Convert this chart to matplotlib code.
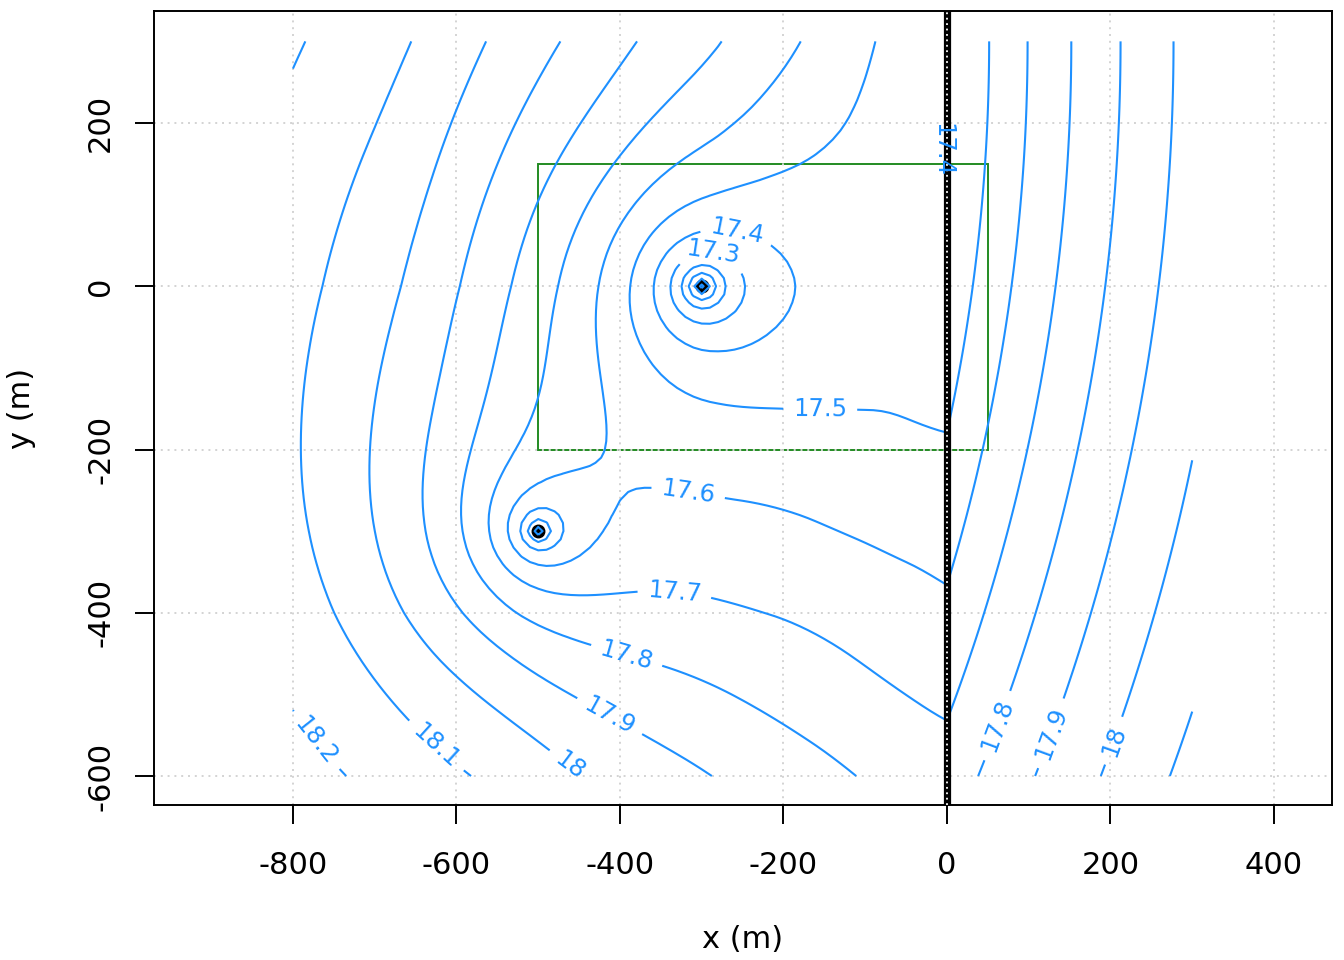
import numpy as np
import matplotlib
matplotlib.use('Agg')
import matplotlib.pyplot as plt
from matplotlib.patches import Rectangle

plt.rcParams['font.family'] = 'DejaVu Sans'
plt.rcParams['axes.unicode_minus'] = False

# regional head vs distance from the far-field centre
profile_r = [2100, 2204, 2253, 2296, 2351, 2412, 2475, 2552, 2630, 2710, 2790, 2870, 2950, 3030, 3110, 3250]
profile_h = [17.18, 17.4, 17.5, 17.6, 17.7, 17.8, 17.9, 18.0, 18.1, 18.19, 18.28, 18.365, 18.42, 18.47, 18.505, 18.57]
centre_x = -2200
centre_y = 300
bulge = 0.024      # extra head on the upper west side
bank_drop = 0.025  # lower head along the west bank
bank_len = 150

# pumping wells: drawdown strength per log unit, well radius
well_x = [-300, -500]
well_y = [0, -300]
well_c = [0.2, 0.157]
well_rad = 5

river_x = 0
roi_x = [-500, 50]
roi_y = [-200, 150]

levels = [16.5, 16.6, 16.7, 16.8, 16.9, 17.0, 17.1, 17.2, 17.3, 17.4, 17.5, 17.6,
          17.7, 17.8, 17.9, 18.0, 18.1, 18.2, 18.3, 18.4, 18.5, 18.6]

label_lev = [18.2, 18.1, 18.0, 17.9, 17.8, 17.7, 17.6, 17.5, 17.4, 17.3, 17.8, 17.9, 18.0]
label_x = [-771, -632, -461, -410, -390, -333, -318, -155, -256, -290, 61, 128, 199]
label_y = [-556, -571, -587, -522, -446, -372, -262, -156, 71, 22, -538, -548, -555]
river_label = ('17.4', -6, 167)

xticks = [-800, -600, -400, -200, 0, 200, 400]
yticks = [-600, -400, -200, 0, 200]

blue = '#1E90FF'

# head field on the model grid
gx = np.linspace(-800, 300, 111)
gy = np.linspace(-600, 300, 91)
X, Y = np.meshgrid(gx, gy)
r = np.hypot(np.abs(X - river_x) - centre_x, Y - centre_y)
# light smoothing of the read-off profile so the contours have no corners
head = np.mean([np.interp(r + d, profile_r, profile_h) for d in np.linspace(-40, 40, 17)], axis=0)

west = X < river_x
u = np.clip(river_x - X, 0, None)
s = np.clip(u / 800, 0, 1)
shape = (4 * s * (1 - s) + 0.5 * s ** 2) * np.minimum(1, s / 0.35)
head += np.where(west, bulge * shape * np.clip((Y + 400) / 400, 0, 1), 0.0)
head -= np.where(west, bank_drop * (u / bank_len) * np.exp(1 - u / bank_len)
                 * np.clip((300 - Y) / 300, 0, 1), 0.0)
for wx, wy, c in zip(well_x, well_y, well_c):
    r1 = np.maximum(np.hypot(X - wx, Y - wy), well_rad)
    ri = np.hypot(X - (2 * river_x - wx), Y - wy)  # image well across the river
    head += np.where(west, c * np.log(r1 / ri), 0.0)

fig = plt.figure(figsize=(13.44, 9.6), dpi=100)
ax = fig.add_axes([154 / 1344, 155 / 960, 1178 / 1344, 794 / 960])
ax.set_xlim(-970, 471)
ax.set_ylim(-635.5, 337.2)

ax.add_patch(Rectangle((roi_x[0], roi_y[0]), roi_x[1] - roi_x[0], roi_y[1] - roi_y[0],
                       fill=False, edgecolor='#228B22', lw=1.4, zorder=1))

for t in xticks:
    ax.axvline(t, color='#D3D3D3', lw=1.4, ls=(0, (1, 2.5)), zorder=1.5)
for t in yticks:
    ax.axhline(t, color='#D3D3D3', lw=1.4, ls=(0, (1, 2.5)), zorder=1.5)

ax.plot(well_x, well_y, 'o', color='black', ms=9, zorder=1.8)

# the 17.4 line that runs under the river is hidden by it
under_river = (np.abs(X - river_x) <= 10) & (Y >= 100)

fmt = lambda v: f'{v:g}'
for lev in levels:
    z = np.ma.masked_where(under_river, head) if lev == 17.4 else head
    cs = ax.contour(X, Y, z, levels=[lev], colors=blue, linewidths=1.5, zorder=2)
    spots = [(lx, ly) for l, lx, ly in zip(label_lev, label_x, label_y) if l == lev]
    if spots:
        cs.clabel(manual=spots, inline=True, inline_spacing=10,
                  fmt=fmt, fontsize=17.5, colors=blue)

ax.axvline(river_x, color='black', lw=5.2, zorder=3)
ax.axvline(river_x, color='white', lw=1.3, ls=(0, (1, 2)), zorder=3.1)
ax.text(river_label[1], river_label[2], river_label[0], color=blue, fontsize=17.5,
        rotation=-90, ha='center', va='center', zorder=4)

ax.set_xticks(xticks)
ax.set_yticks(yticks)
ax.set_xticklabels([str(t) for t in xticks])
ax.set_yticklabels([str(t) for t in yticks], rotation=90, va='center')
ax.tick_params(direction='out', length=13.5, width=1.4, labelsize=22)
ax.tick_params(axis='x', pad=19.5)
ax.tick_params(axis='y', pad=14.5)
for sp in ax.spines.values():
    sp.set_linewidth(1.4)

fig.text(743 / 1344, 1 - 940 / 960, 'x (m)', ha='center', va='center', fontsize=22)
fig.text(22 / 1344, 1 - 408 / 960, 'y (m)', ha='center', va='center', fontsize=22, rotation=90)

fig.savefig('out.png', dpi=100)
